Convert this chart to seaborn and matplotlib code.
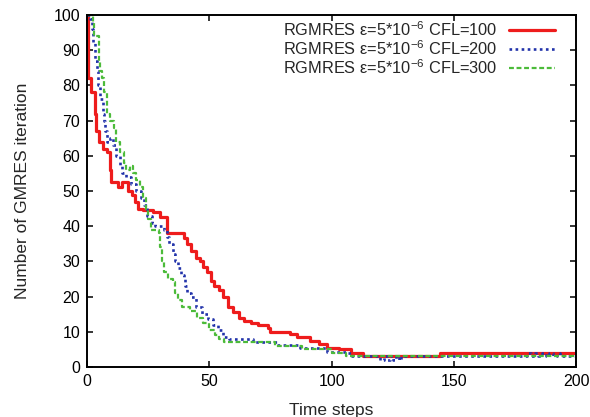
import matplotlib
matplotlib.use("Agg")
import matplotlib.pyplot as plt
import seaborn as sns

# CFL=100 (red, solid) - step curve
red_t = [0, 0.5, 1.8, 3.3, 3.8, 5.0, 6.5, 8.0, 9.2, 9.8, 12.7, 14.2, 16.8, 18.3, 19.6, 20.9,
         22.9, 27.0, 30.0, 32.5, 38.8, 39.5, 40.8, 42.5, 44.5, 46.0, 47.5, 49.0, 50.5, 52.0,
         54.0, 55.5, 57.5, 59.5, 62.0, 64.0, 67.0, 70.0, 74.0, 75.0, 83.0, 86.0, 91.0, 95.0,
         98.0, 103.0, 108.0, 113.0, 144.5, 200.0]
red_v = [100, 82, 78, 72, 67, 64, 62, 61, 56, 52.5, 51, 52.5, 50, 49, 47, 45,
         44.5, 44, 42.5, 38, 38, 36.5, 35, 33, 31, 30, 28.5, 27, 24.5, 23,
         22, 20, 17, 15.5, 14, 13, 12.5, 12, 11, 10, 9.5, 8.5, 7.5, 6.5,
         5.5, 5, 4, 3, 4, 4]

# CFL=200 (blue, dotted)
blue_t = [0, 1.2, 2.0, 2.5, 3.3, 4.0, 4.5, 5.5, 6.5, 7.0, 7.5, 8.0, 9.5, 10.5, 12.0, 13.5,
          14.5, 16.0, 18.0, 20.0, 22.0, 23.5, 24.5, 26.5, 27.8, 31.5, 32.5, 33.5, 35.0, 36.0,
          37.0, 38.5, 39.5, 40.0, 41.0, 42.5, 44.5, 47.0, 49.5, 51.5, 53.5, 55.5, 58.0, 68.0,
          77.5, 87.0, 98.0, 106.0, 108.0, 120.0, 121.5, 122.5, 124.0, 125.0, 126.5, 127.5,
          128.5, 180.0, 181.5, 183.0, 184.5, 186.0, 187.5, 189.0, 190.5, 192.0, 193.5, 200.0]
blue_v = [100, 99, 96, 92, 87, 84, 80, 76, 72, 70, 67, 64, 65, 63, 60, 57,
          55, 54, 52, 50, 48, 46, 43, 41, 40, 39, 37, 35, 32, 30,
          28, 26, 25, 23, 21, 20, 17, 15, 13.5, 12, 10.5, 8.5, 8, 7,
          6.3, 5.4, 4.3, 4, 3, 2, 3, 2, 3, 2, 3, 2,
          3, 4, 3, 4, 3, 4, 3, 4, 3, 4, 3, 3]

# CFL=300 (green, dashed)
green_t = [0, 2.5, 3.0, 5.0, 5.5, 6.0, 7.0, 8.0, 9.5, 11.0, 12.0, 13.5, 15.0, 16.0, 17.5, 19.0,
           20.0, 21.5, 23.0, 24.0, 25.0, 26.0, 29.5, 30.0, 30.5, 31.5, 33.0, 35.0, 36.0, 37.0,
           39.0, 42.0, 45.0, 47.5, 50.0, 52.5, 54.0, 56.0, 77.0, 88.0, 100.0, 106.0, 200.0]
green_v = [100, 98, 94, 87, 84, 82, 78, 72, 70, 68, 64, 61, 58, 56, 57, 55,
           53, 51, 48, 45, 42, 39, 38, 34, 30, 27, 25, 24, 21, 19,
           17, 16, 14, 12.5, 10.5, 9, 8, 7, 6, 5, 4, 3, 3]

labels = [r"RGMRES ε=5*10$^{-6}$ CFL=100",
          r"RGMRES ε=5*10$^{-6}$ CFL=200",
          r"RGMRES ε=5*10$^{-6}$ CFL=300"]

sns.set_theme(style="ticks")
plt.rcParams['font.family'] = ['Liberation Sans', 'DejaVu Sans']
plt.rcParams['mathtext.default'] = 'regular'

fig = plt.figure(figsize=(5.9, 4.17), dpi=100)
ax = fig.add_axes([0.1475, 0.12, 0.829, 0.844])

common = dict(estimator=None, sort=False, drawstyle='steps-post', ax=ax)
sns.lineplot(x=red_t, y=red_v, color='#ee1c1c', linewidth=2.3, label=labels[0], **common)
sns.lineplot(x=blue_t, y=blue_v, color='#2233aa', linewidth=1.9, linestyle=(0, (1, 1.3)),
             label=labels[1], **common)
sns.lineplot(x=green_t, y=green_v, color='#4cbb3a', linewidth=1.6, linestyle=(0, (2.2, 1.2)),
             label=labels[2], **common)

ax.set_xlim(0, 200)
ax.set_ylim(0, 100)
ax.set_xticks([0, 50, 100, 150, 200])
ax.set_yticks(range(0, 101, 10))
ax.tick_params(direction='in', top=True, right=True, length=4.5, width=1.1,
               labelsize=11.5, pad=5, colors='black')
for s in ax.spines.values():
    s.set_linewidth(1.4)
    s.set_color('black')

ax.set_xlabel("Time steps", fontsize=12.5, labelpad=10)
ax.set_ylabel("Number of GMRES iteration", fontsize=12.5, labelpad=17)

leg = ax.legend(loc='upper right', bbox_to_anchor=(0.957, 0.985), frameon=False,
                markerfirst=False, fontsize=11.8, handlelength=2.8, handletextpad=0.75,
                labelspacing=0.02, borderaxespad=0, borderpad=0)

fig.savefig("out.png", dpi=100)
